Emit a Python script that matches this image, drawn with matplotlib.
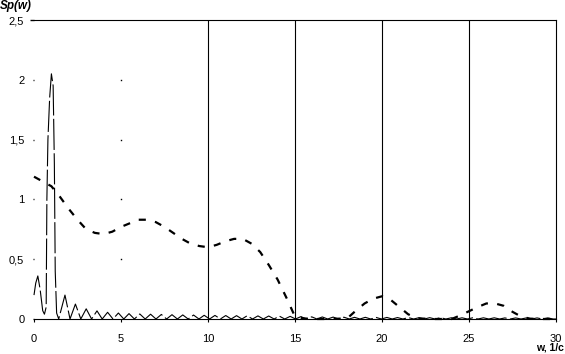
import numpy as np
import matplotlib
matplotlib.use("Agg")
import matplotlib.pyplot as plt

plt.rcParams['font.family'] = ['Liberation Sans', 'DejaVu Sans']

# ---- data ----
x_ticks = [0, 5, 10, 15, 20, 25, 30]
x_labels = ["0", "5", "10", "15", "20", "25", "30"]
y_ticks = [0, 0.5, 1.0, 1.5, 2.0, 2.5]
y_labels = ["0", "0,5", "1", "1,5", "2", "2,5"]

# thin oscillating curve: head part
thin_head_w = [0, 0.1, 0.22, 0.35, 0.5, 0.6, 0.7, 0.74, 0.8, 0.9, 1.0, 1.1, 1.17, 1.22, 1.3]
thin_head_s = [0.2, 0.3, 0.36, 0.25, 0.07, 0.04, 0.1, 1.0, 1.5, 1.85, 2.05, 1.95, 1.3, 0.4, 0.05]
# side lobes: trough positions, peak positions and peak heights
thin_trough_w = [1.42, 2.07, 2.69, 3.31, 3.92, 4.54, 5.16, 5.77, 6.39, 7.01,
                 7.62, 8.24, 8.86, 9.48, 10.09, 10.71, 11.33, 11.95, 12.56, 13.18,
                 13.8, 14.41, 15.03, 15.65, 16.26, 16.88, 17.5, 18.12, 18.73, 19.35,
                 19.97, 20.59, 21.2, 21.82, 22.44, 23.05, 23.67, 24.29, 24.91, 25.52,
                 26.14, 26.76, 27.37, 27.99, 28.61, 29.22, 29.84]
thin_peak_w = [1.78, 2.38, 3.0, 3.62, 4.23, 4.85, 5.46, 6.08, 6.7, 7.32,
               7.93, 8.55, 9.17, 9.78, 10.4, 11.02, 11.64, 12.25, 12.87, 13.49,
               14.1, 14.72, 15.34, 15.96, 16.57, 17.19, 17.81, 18.42, 19.04, 19.66,
               20.28, 20.89, 21.51, 22.13, 22.74, 23.36, 23.98, 24.6, 25.21, 25.83,
               26.45, 27.06, 27.68, 28.3, 28.91, 29.53]
thin_peak_s = [0.20, 0.125, 0.085, 0.068, 0.056, 0.05, 0.045, 0.042, 0.04, 0.038,
               0.036, 0.034, 0.033, 0.031, 0.03, 0.029, 0.028, 0.027, 0.026, 0.025,
               0.024, 0.022, 0.02, 0.018, 0.017, 0.016, 0.015, 0.014, 0.014, 0.013,
               0.013, 0.012, 0.012, 0.011, 0.011, 0.011, 0.01, 0.01, 0.01, 0.01,
               0.01, 0.009, 0.009, 0.009, 0.009, 0.009]

# thick dashed curve
thick_w = [0, 0.5, 1.0, 1.5, 2.0, 2.5, 3.0, 3.5, 4.0, 4.5, 5.0, 5.5, 6.0, 6.5, 7.0,
           7.5, 8.0, 8.5, 9.0, 9.5, 10.0, 10.5, 11.0, 11.5, 12.0, 12.5, 13.0, 13.5,
           14.0, 14.5, 15.0, 15.5, 16.0, 17.0, 18.0, 18.5, 19.0, 19.5, 20.0, 20.5,
           21.0, 21.5, 22.0, 23.0, 24.0, 24.5, 25.0, 25.5, 26.0, 26.5, 27.0, 27.5,
           28.0, 28.5, 29.0, 30.0]
thick_s = [1.19, 1.15, 1.11, 1.02, 0.92, 0.83, 0.75, 0.72, 0.71, 0.73, 0.77, 0.80,
           0.83, 0.83, 0.81, 0.77, 0.72, 0.67, 0.63, 0.61, 0.60, 0.62, 0.65, 0.67,
           0.67, 0.63, 0.56, 0.45, 0.33, 0.18, 0.02, 0.005, 0.0, 0.0, 0.005, 0.07,
           0.13, 0.17, 0.19, 0.16, 0.10, 0.04, 0.005, 0.0, 0.0, 0.03, 0.065, 0.10,
           0.13, 0.13, 0.11, 0.06, 0.02, 0.003, 0.0, 0.0]

# combine thin curve pieces (ordered by position)
lobe_w = np.concatenate([thin_trough_w, thin_peak_w])
lobe_s = np.concatenate([np.zeros(len(thin_trough_w)), thin_peak_s])
order = np.argsort(lobe_w)
thin_w = np.concatenate([thin_head_w, lobe_w[order], [30.0]])
thin_s = np.concatenate([thin_head_s, lobe_s[order], [0.0]])

# ---- figure ----
fig = plt.figure(figsize=(5.65, 3.54), dpi=100)
ax = fig.add_axes([34/565, 1-319/354, (556-34)/565, (319-20)/354])
ax.set_xlim(x_ticks[0], x_ticks[-1])
ax.set_ylim(y_ticks[0], y_ticks[-1])

for s in ['left', 'top']:
    ax.spines[s].set_visible(False)
ax.spines['bottom'].set_linewidth(0.8)
ax.spines['right'].set_linewidth(0.8)
ax.spines['bottom'].set_color('black')
ax.spines['right'].set_color('black')

# grid-like decorations
ax.axhline(y_ticks[-1], color='black', lw=0.8, clip_on=False)
for xv in x_ticks[2:-1]:
    ax.axvline(xv, color='black', lw=0.8)
for yv in y_ticks[1:-1]:
    ax.plot([x_ticks[1]], [yv], marker='s', ms=1.0, color='black', mew=0)

ax.plot(thin_w, thin_s, color='black', lw=0.8, linestyle=(0, (28, 3)), clip_on=False)
ax.plot(thick_w, thick_s, color='black', lw=1.6, linestyle=(0, (3.2, 4.2)), clip_on=False)

ax.set_xticks(x_ticks)
ax.set_xticklabels(x_labels)
ax.set_yticks(y_ticks)
ax.set_yticklabels(y_labels)
ax.tick_params(axis='x', direction='out', length=2.5, width=0.8, pad=8, labelsize=8)
ax.tick_params(axis='y', direction='out', length=1, width=1, pad=6, labelsize=8)
ax.yaxis.get_major_ticks()[-1].tick1line.set_markersize(3)

fig.text(0.0, 1-6/354, "Sp(w)", fontsize=8.5, fontweight='bold', fontstyle='italic',
         ha='left', va='center')
fig.text(564/565, 1-351/354, "w, 1/c", fontsize=7.5, fontweight='bold',
         ha='right', va='baseline')

fig.savefig("out.png", dpi=100)
